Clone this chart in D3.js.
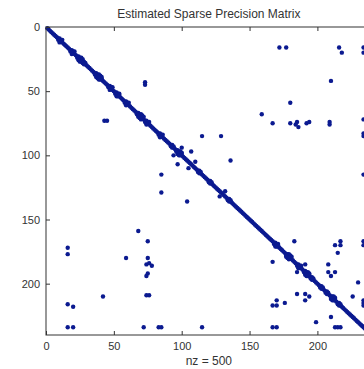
<!DOCTYPE html>
<html>
<head>
<meta charset="utf-8">
<script src="https://cdn.jsdelivr.net/npm/d3@7"></script>
<style>
  body { margin: 0; background: #fff; }
  text { font-family: "Liberation Sans", Arial, sans-serif; fill: #333; }
</style>
</head>
<body>
<div id="chart"></div>
<script>
// matrix size and the ticks shown
const n = 239;
const xTicks = [0, 50, 100, 150, 200];
const yTicks = [0, 50, 100, 150, 200];
const title = "Estimated Sparse Precision Matrix";
const nz = 500;

// entries next to the diagonal (upper triangle, row/col), mirrored below
const nearDiag = [
  [9,10],[10,11],[10,12],
  [18,19],[19,20],[19,21],
  [23,24],[24,25],[24,26],[25,26],[25,27],[26,27],
  [27,28],[28,29],
  [36,37],[37,38],[37,39],[38,39],[38,40],[39,40],[39,41],[40,41],
  [46,47],[47,48],[47,49],
  [51,52],[52,53],[52,54],[53,54],
  [58,59],[59,60],[59,61],
  [67,68],[68,69],[68,70],[69,70],[69,71],[70,71],[70,72],
  [73,74],[74,75],[74,76],
  [83,84],[84,85],[84,86],
  [92,93],[93,94],
  [96,97],[97,98],[97,99],[98,99],[98,100],[99,100],
  [112,113],[113,114],
  [120,121],[121,122],
  [134,135],[135,136],
  [168,169],[169,170],[169,171],[170,171],
  [177,178],[178,179],[178,180],[179,180],[177,179],[179,181],
  [185,186],[186,187],[186,188],
  [190,191],[191,192],[191,193],[192,193],[192,194],[193,194],
  [195,196],[196,197],
  [202,203],[203,204],
  [206,207],[207,208],
  [210,211],[211,212],[211,213],[212,213],[210,212],
  [215,216],[216,217]
];

// scattered off-diagonal entries (upper triangle), mirrored below
const offDiag = [
  [16,172],[16,177],[16,216],[20,218],[16,234],[20,234],
  [42,210],[43,73],[45,73],
  [59,180],[68,159],[75,167],[75,180],
  [74,185],[76,184],[78,186],
  [75,192],[74,194],[74,209],[76,209],
  [72,234],[83,234],[85,234],
  [85,115],[85,129],
  [97,107],[105,110],[94,100],[104,136],[115,234],[128,132],
  [167,183],[167,217],[170,217],[170,213],[176,215],[167,234],[170,234],
  [185,191],[185,208],[191,208],[194,210],[191,213],[199,230],[210,226],
  [213,234],[215,234],[217,234]
];

const width = 364, height = 369;
const marginLeft = 46, marginTop = 27, axisBottomY = 335;
const plotW = 240 * 1.357;

const svg = d3.select("#chart").append("svg")
  .attr("width", width)
  .attr("height", height);

const x = d3.scaleLinear().domain([0, n + 1]).range([marginLeft, marginLeft + plotW]);
const y = d3.scaleLinear().domain([0, n + 1]).range([marginTop, axisBottomY]);

// nonzeros: full diagonal plus both triangles
const diag = d3.range(1, n + 1).map(i => [i, i]);
const pairs = nearDiag.concat(offDiag);
const entries = diag
  .concat(pairs)
  .concat(pairs.map(d => [d[1], d[0]]));

svg.append("g")
  .selectAll("circle")
  .data(entries)
  .enter()
  .append("circle")
  .attr("cx", d => x(d[1]))
  .attr("cy", d => y(d[0]))
  .attr("r", 2.2)
  .style("fill", "#0b1a90");

// axes box
svg.append("rect")
  .attr("x", marginLeft)
  .attr("y", marginTop)
  .attr("width", plotW)
  .attr("height", axisBottomY - marginTop)
  .style("fill", "none")
  .style("stroke", "#333")
  .style("stroke-width", 1);

const bottomAxis = svg.append("g")
  .attr("transform", `translate(0,${axisBottomY})`)
  .call(d3.axisBottom(x).tickValues(xTicks).tickSizeInner(-4).tickSizeOuter(0).tickPadding(7));

const topAxis = svg.append("g")
  .attr("transform", `translate(0,${marginTop})`)
  .call(d3.axisTop(x).tickValues(xTicks.slice(1)).tickSizeInner(-4).tickSizeOuter(0).tickFormat(""));

const leftAxis = svg.append("g")
  .attr("transform", `translate(${marginLeft},0)`)
  .call(d3.axisLeft(y).tickValues(yTicks).tickSizeInner(-4).tickSizeOuter(0).tickPadding(6));

[bottomAxis, topAxis, leftAxis].forEach(g => {
  g.select(".domain").remove();
  g.selectAll("line").style("stroke", "#333");
  g.selectAll("text").style("font-size", "11px").style("fill", "#333")
    .style("font-family", "'Liberation Sans', Arial, sans-serif");
});

svg.append("text")
  .attr("text-anchor", "middle")
  .attr("x", x((n + 1) / 2))
  .attr("y", 18)
  .style("font-size", "12px")
  .text(title);

svg.append("text")
  .attr("text-anchor", "middle")
  .attr("x", x((n + 1) / 2))
  .attr("y", 365)
  .style("font-size", "12px")
  .text("nz = " + nz);
</script>
</body>
</html>
